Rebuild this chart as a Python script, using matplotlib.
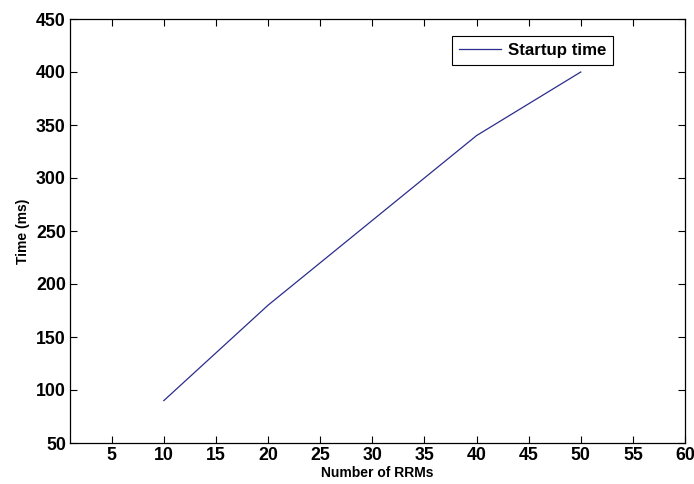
import matplotlib
matplotlib.use("Agg")
import matplotlib.pyplot as plt

# ── Data ─────────────────────────────────────────────────────────────────────
rrms = [10, 20, 30, 40, 50]
startup_ms = [90, 180, 260, 340, 400]

x_ticks = list(range(5, 65, 5))
y_ticks = list(range(50, 500, 50))

plt.rcParams["font.family"] = ["Liberation Sans", "DejaVu Sans"]

fig = plt.figure(figsize=(6.94, 4.84), dpi=100)
ax = fig.add_axes([70 / 694, 1 - 443 / 484, 615 / 694, 424 / 484])

ax.plot(rrms, startup_ms, color="#2c2c8c", linewidth=0.9, label="Startup time")

ax.set_xlim(1, 60)
ax.set_ylim(50, 450)
ax.set_xticks(x_ticks)
ax.set_yticks(y_ticks)
ax.tick_params(direction="in", length=5, width=0.8, top=True, right=True,
               labelsize=12.8, pad=3)
for lbl in ax.get_xticklabels() + ax.get_yticklabels():
    lbl.set_fontweight("bold")
for s in ax.spines.values():
    s.set_linewidth(0.9)

ax.set_xlabel("Number of RRMs", fontsize=10, fontweight="bold", labelpad=1)
ax.set_ylabel("Time (ms)", fontsize=10, fontweight="bold", labelpad=4)

leg = ax.legend(loc="upper right", bbox_to_anchor=(0.883, 0.960), borderaxespad=0,
                fancybox=False, edgecolor="black", framealpha=1, borderpad=0.4,
                handlelength=2.5, handletextpad=0.4,
                prop={"weight": "bold", "size": 12.2})
leg.get_frame().set_linewidth(0.8)

plt.savefig("out.png", dpi=100)
